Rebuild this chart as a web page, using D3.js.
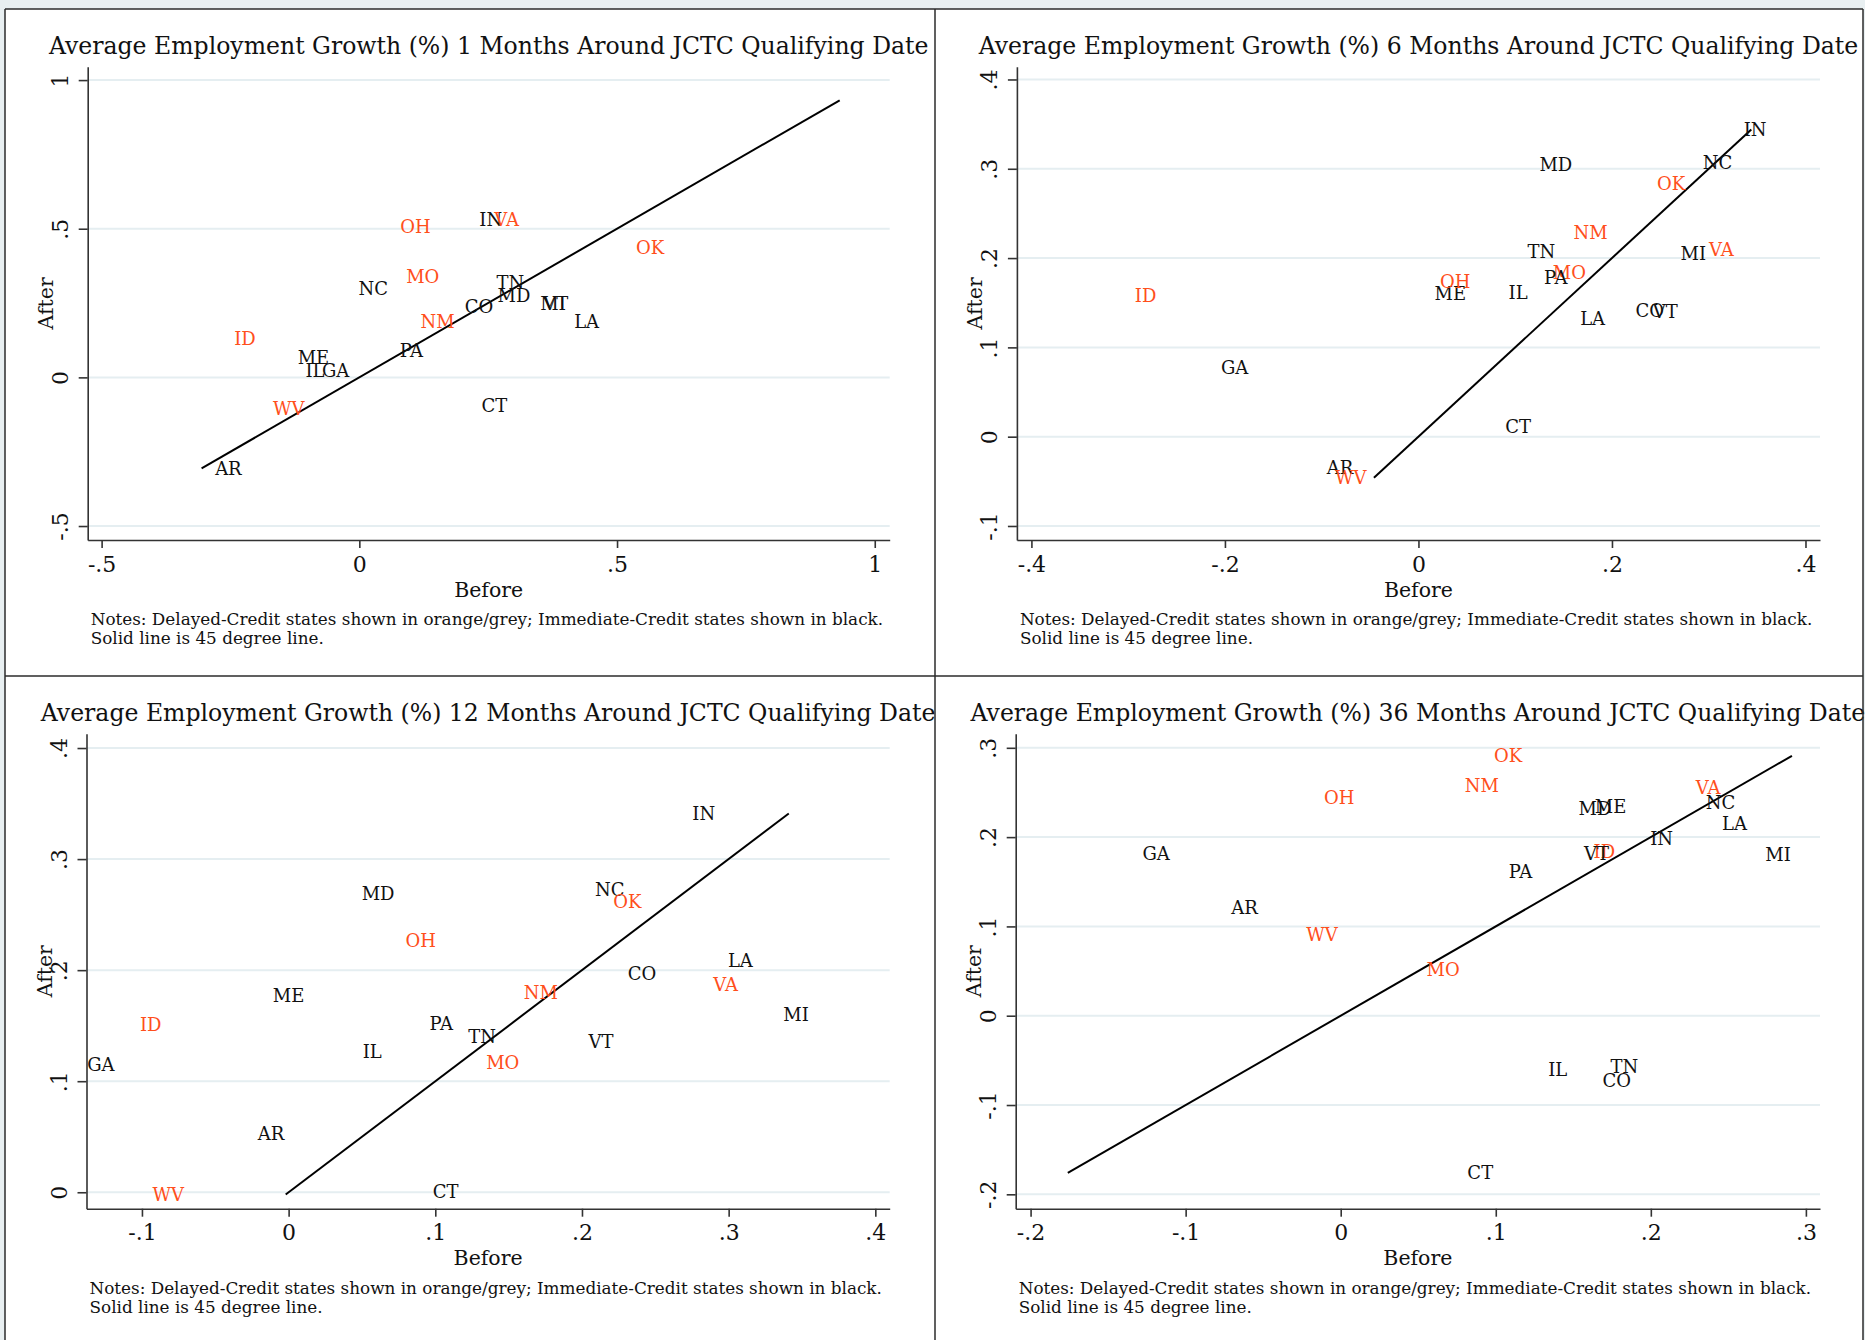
<!DOCTYPE html>
<html><head><meta charset="utf-8">
<script src="https://cdn.jsdelivr.net/npm/d3@7"></script>
<style>
html,body{margin:0;padding:0;background:#e8eff1;}
svg{display:block;font-family:"DejaVu Serif",serif;}
</style></head><body>
<svg id="c" width="1865" height="1340"></svg>
<script>
// ---------------- DATA ----------------
const states = ["AR","CO","CT","GA","ID","IL","IN","LA","MD","ME","MI","MO","NC","NM","OH","OK","PA","TN","VA","VT","WV"];
const delayedCredit = ["ID","MO","NM","OH","OK","VA","WV"];

const months = [1, 6, 12, 36];

const before1  = [-0.254, 0.232, 0.262,-0.046,-0.222,-0.086, 0.255, 0.441, 0.300,-0.089, 0.376, 0.123, 0.027, 0.152, 0.109, 0.564, 0.101, 0.293, 0.286, 0.381,-0.137];
const after1   = [-0.306, 0.240,-0.093, 0.022, 0.131, 0.022, 0.532, 0.189, 0.277, 0.067, 0.249, 0.338, 0.298, 0.187, 0.509, 0.436, 0.092, 0.318, 0.532, 0.249,-0.104];

const before6  = [-0.081, 0.239, 0.103,-0.190,-0.282, 0.103, 0.348, 0.180, 0.142, 0.033, 0.284, 0.156, 0.309, 0.178, 0.038, 0.261, 0.142, 0.127, 0.313, 0.255,-0.070];
const after6   = [-0.035, 0.141, 0.011, 0.077, 0.158, 0.161, 0.344, 0.132, 0.305, 0.160, 0.205, 0.184, 0.307, 0.229, 0.174, 0.284, 0.178, 0.207, 0.210, 0.140,-0.046];

const before12 = [-0.012, 0.241, 0.107,-0.128,-0.094, 0.057, 0.283, 0.308, 0.061, 0.000, 0.346, 0.146, 0.219, 0.172, 0.090, 0.231, 0.104, 0.132, 0.298, 0.213,-0.082];
const after12  = [ 0.053, 0.197, 0.001, 0.115, 0.151, 0.127, 0.341, 0.209, 0.269, 0.177, 0.160, 0.117, 0.273, 0.180, 0.227, 0.262, 0.152, 0.140, 0.187, 0.136,-0.002];

const before36 = [-0.062, 0.178, 0.090,-0.119, 0.170, 0.140, 0.207, 0.254, 0.164, 0.174, 0.282, 0.066, 0.245, 0.091,-0.001, 0.108, 0.116, 0.183, 0.237, 0.165,-0.012];
const after36  = [ 0.121,-0.073,-0.176, 0.182, 0.184,-0.060, 0.198, 0.215, 0.232, 0.234, 0.181, 0.052, 0.239, 0.258, 0.244, 0.291, 0.161,-0.057, 0.256, 0.182, 0.091];

// 45-degree line extent (from, to)
const line1  = [-0.306, 0.932];
const line6  = [-0.046, 0.344];
const line12 = [-0.002, 0.341];
const line36 = [-0.176, 0.291];

// axis ranges
const xDomain1  = [-0.527, 1.029],  yDomain1  = [-0.547, 1.045];
const xDomain6  = [-0.415, 0.415],  yDomain6  = [-0.1157, 0.4143];
const xDomain12 = [-0.1378, 0.4098], yDomain12 = [-0.0148, 0.4129];
const xDomain36 = [-0.2096, 0.3091], yDomain36 = [-0.2161, 0.3158];

// ticks
const xTicks1 = [-0.5, 0, 0.5, 1],            xTickLabels1 = ["-.5","0",".5","1"];
const yTicks1 = [-0.5, 0, 0.5, 1],            yTickLabels1 = ["-.5","0",".5","1"];
const xTicks6 = [-0.4,-0.2,0,0.2,0.4],        xTickLabels6 = ["-.4","-.2","0",".2",".4"];
const yTicks6 = [-0.1,0,0.1,0.2,0.3,0.4],     yTickLabels6 = ["-.1","0",".1",".2",".3",".4"];
const xTicks12 = [-0.1,0,0.1,0.2,0.3,0.4],    xTickLabels12 = ["-.1","0",".1",".2",".3",".4"];
const yTicks12 = [0,0.1,0.2,0.3,0.4],         yTickLabels12 = ["0",".1",".2",".3",".4"];
const xTicks36 = [-0.2,-0.1,0,0.1,0.2,0.3],   xTickLabels36 = ["-.2","-.1","0",".1",".2",".3"];
const yTicks36 = [-0.2,-0.1,0,0.1,0.2,0.3],   yTickLabels36 = ["-.2","-.1","0",".1",".2",".3"];

const xTitle = "Before", yTitle = "After";
const noteLines = ["Notes: Delayed-Credit states shown in orange/grey; Immediate-Credit states shown in black.",
                   "Solid line is 45 degree line."];
const titleFor = m => `Average Employment Growth (%) ${m} Months Around JCTC Qualifying Date`;

// ---------------- LAYOUT ----------------
const panels = [
  {m: months[0], bef: before1,  aft: after1,  ln: line1,  xd: xDomain1,  yd: yDomain1,  xt: xTicks1,  xl: xTickLabels1,  yt: yTicks1,  yl: yTickLabels1,  box:{l:87.7,  r:889.7, t:66.7,  b:540}},
  {m: months[1], bef: before6,  aft: after6,  ln: line6,  xd: xDomain6,  yd: yDomain6,  xt: xTicks6,  xl: xTickLabels6,  yt: yTicks6,  yl: yTickLabels6,  box:{l:1016.9, r:1820,  t:66.7,  b:540}},
  {m: months[2], bef: before12, aft: after12, ln: line12, xd: xDomain12, yd: yDomain12, xt: xTicks12, xl: xTickLabels12, yt: yTicks12, yl: yTickLabels12, box:{l:86.5,  r:889.7, t:733.7, b:1208.7}},
  {m: months[3], bef: before36, aft: after36, ln: line36, xd: xDomain36, yd: yDomain36, xt: xTicks36, xl: xTickLabels36, yt: yTicks36, yl: yTickLabels36, box:{l:1015.7, r:1820,  t:733.7, b:1208.7}}
];

const ORANGE = "#ff4f1c", BLACK = "#111", AXIS = "#333", GRID = "#e5eef1";
const svg = d3.select("#c");

// white canvas + panel frames
svg.append("rect").attr("x",5).attr("y",9).attr("width",1858).attr("height",1331).attr("fill","#fff");

// font fitting (title / notes)
const probe = svg.append("text").attr("font-size",24).text(titleFor(1));
const titleSize = 24 * 880 / probe.node().getComputedTextLength();
probe.attr("font-size",16).text(noteLines[0]);
const noteSize = 16 * 793 / probe.node().getComputedTextLength();
probe.remove();

panels.forEach(p => {
  const {l,r,t,b} = p.box;
  const x = d3.scaleLinear().domain(p.xd).range([l, r]);
  const y = d3.scaleLinear().domain(p.yd).range([b, t]);
  const g = svg.append("g");

  // gridlines
  g.append("g").selectAll("line").data(p.yt).join("line")
    .attr("x1", l).attr("x2", r).attr("y1", d => y(d)).attr("y2", d => y(d))
    .attr("stroke", GRID).attr("stroke-width", 2);

  // 45 degree line
  g.append("path").datum(p.ln.map(v => [v, v]))
    .attr("d", d3.line().x(d => x(d[0])).y(d => y(d[1])))
    .attr("fill","none").attr("stroke","#000").attr("stroke-width",2);

  // state labels
  g.append("g").selectAll("text").data(states).join("text")
    .attr("x", (s,i) => x(p.bef[i])).attr("y", (s,i) => y(p.aft[i]))
    .attr("dy","0.36em").attr("text-anchor","middle")
    .attr("font-size",18)
    .attr("fill", s => delayedCredit.includes(s) ? ORANGE : BLACK)
    .text(s => s);

  // x axis
  const xa = g.append("g").attr("transform",`translate(0,${b})`)
    .call(d3.axisBottom(x).tickValues(p.xt).tickFormat((d,i) => p.xl[i]).tickSize(8).tickSizeOuter(0).tickPadding(8));
  xa.select(".domain").attr("stroke",AXIS).attr("stroke-width",1.6);
  xa.selectAll(".tick line").attr("stroke",AXIS).attr("stroke-width",1.6);
  xa.selectAll(".tick text").attr("font-size",22).attr("font-family","DejaVu Serif").attr("fill",BLACK);

  // y axis
  const ya = g.append("g").attr("transform",`translate(${l},0)`)
    .call(d3.axisLeft(y).tickValues(p.yt).tickFormat((d,i) => p.yl[i]).tickSize(9).tickSizeOuter(0));
  ya.select(".domain").attr("stroke",AXIS).attr("stroke-width",1.6);
  ya.selectAll(".tick line").attr("stroke",AXIS).attr("stroke-width",1.6);
  ya.selectAll(".tick text")
    .attr("x", null).attr("dy", null).attr("text-anchor","middle")
    .attr("transform","translate(-20,0) rotate(-90)")
    .attr("font-size",22).attr("font-family","DejaVu Serif").attr("fill",BLACK);

  // axis titles
  g.append("text").attr("x",(l+r)/2).attr("y",b+56.7).attr("text-anchor","middle")
    .attr("font-size",20.5).attr("fill",BLACK).text(xTitle);
  g.append("text").attr("transform",`translate(${l-35},${(t+b)/2}) rotate(-90)`).attr("text-anchor","middle")
    .attr("font-size",20.5).attr("fill",BLACK).text(yTitle);

  // title
  g.append("text").attr("x",(l+r)/2).attr("y",t-13).attr("text-anchor","middle")
    .attr("font-size",titleSize).attr("fill",BLACK).text(titleFor(p.m));

  // notes
  g.append("g").selectAll("text").data(noteLines).join("text")
    .attr("x", l+3).attr("y",(d,i) => b + 85 + i*19)
    .attr("font-size",noteSize).attr("fill",BLACK).text(d => d);
});

// frames
const frame = svg.append("g").attr("stroke","#2b2b2b").attr("stroke-width",1.5);
[[5,9,5,1340],[5,9,1863,9],[935,9,935,1340],[5,676,1863,676],[1863,9,1863,1340]].forEach(d =>
  frame.append("line").attr("x1",d[0]).attr("y1",d[1]).attr("x2",d[2]).attr("y2",d[3]));
</script>
</body></html>
